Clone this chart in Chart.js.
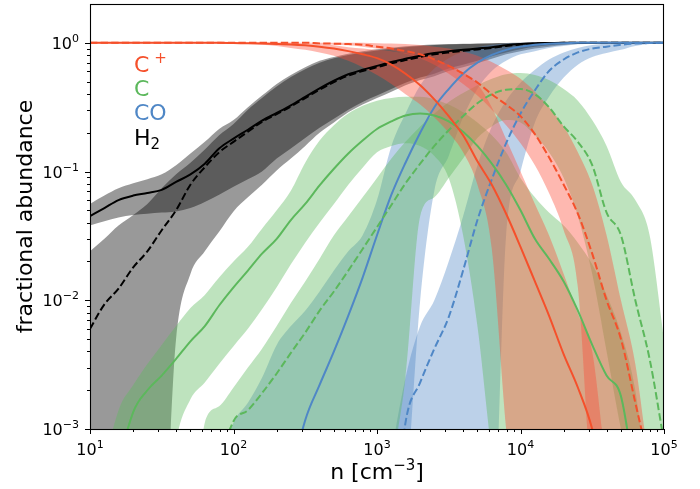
<!DOCTYPE html>
<html>
<head>
<meta charset="utf-8">
<script src="https://cdn.jsdelivr.net/npm/chart.js@4.4.1/dist/chart.umd.min.js"></script>
<style>
  html, body { margin: 0; padding: 0; background: #fff; }
  canvas { display: block; }
</style>
</head>
<body>
<canvas id="chart" width="700" height="489"></canvas>
<script>
  // density grid (cm^-3), 0.1 dex steps
  const density = [10, 12.6, 15.8, 20, 25.1, 31.6, 39.8, 50.1, 63.1, 79.4,
    100, 126, 158, 200, 251, 316, 398, 501, 631, 794,
    1000, 1260, 1580, 2000, 2510, 3160, 3980, 5010, 6310, 7940,
    10000, 12600, 15800, 20000, 25100, 31600, 39800, 50100, 63100, 79400, 100000];

  // ── H2 ───────────────────────────────────────────────────
  const h2Solid = [0.045, 0.052, 0.06, 0.065, 0.068, 0.072, 0.083, 0.095, 0.115, 0.151,
    0.18, 0.211, 0.248, 0.285, 0.327, 0.38, 0.442, 0.507, 0.569, 0.617,
    0.661, 0.708, 0.75, 0.794, 0.832, 0.861, 0.881, 0.902, 0.923, 0.955,
    0.977, 0.991, 0.995, 1, 1, 1, 1, 1, 1, 1, 1];
  const h2Dashed = [0.006, 0.0093, 0.0123, 0.018, 0.024, 0.035, 0.05, 0.079, 0.108, 0.141,
    0.17, 0.204, 0.243, 0.279, 0.32, 0.372, 0.432, 0.495, 0.556, 0.603,
    0.646, 0.692, 0.733, 0.776, 0.813, 0.841, 0.865, 0.887, 0.912, 0.944,
    0.968, 0.984, 0.993, 0.998, 1, 1, 1, 1, 1, 1, 1];
  const h2SolidHi = [0.056, 0.065, 0.074, 0.081, 0.087, 0.095, 0.112, 0.138, 0.17, 0.214,
    0.251, 0.316, 0.389, 0.479, 0.562, 0.646, 0.724, 0.776, 0.822, 0.861,
    0.891, 0.916, 0.938, 0.955, 0.968, 0.977, 0.984, 0.989, 0.993, 0.995,
    0.998, 1, 1, 1, 1, 1, 1, 1, 1, 1, 1];
  const h2SolidLo = [0.038, 0.041, 0.044, 0.046, 0.047, 0.048, 0.049, 0.052, 0.058, 0.066,
    0.076, 0.087, 0.1, 0.126, 0.151, 0.182, 0.219, 0.257, 0.302, 0.347,
    0.389, 0.437, 0.49, 0.537, 0.575, 0.631, 0.676, 0.724, 0.785, 0.841,
    0.891, 0.929, 0.955, 0.973, 0.984, 0.991, 0.995, 0.998, 1, 1, 1];
  const h2DashHi = [0.024, 0.03, 0.038, 0.046, 0.056, 0.074, 0.095, 0.117, 0.148, 0.191,
    0.234, 0.302, 0.372, 0.457, 0.543, 0.624, 0.70, 0.759, 0.804, 0.841,
    0.871, 0.902, 0.923, 0.944, 0.959, 0.97, 0.977, 0.984, 0.989, 0.993,
    0.995, 0.998, 1, 1, 1, 1, 1, 1, 1, 1, 1];
  const h2DashLo = [0.0001, 0.0001, 0.0001, 0.0001, 0.0001, 0.0001, 0.005, 0.016, 0.024, 0.034,
    0.049, 0.063, 0.079, 0.102, 0.126, 0.158, 0.2, 0.24, 0.288, 0.331,
    0.372, 0.417, 0.468, 0.513, 0.55, 0.603, 0.646, 0.692, 0.75, 0.813,
    0.861, 0.902, 0.933, 0.959, 0.977, 0.986, 0.993, 0.995, 0.998, 1, 1];

  // ── C+ ───────────────────────────────────────────────────
  const cplusSolid = [1, 1, 1, 1, 1, 1, 1, 1, 1, 1,
    0.995, 0.991, 0.986, 0.979, 0.97, 0.955, 0.933, 0.902, 0.861, 0.813,
    0.759, 0.676, 0.575, 0.468, 0.363, 0.269, 0.191, 0.12, 0.079, 0.047,
    0.026, 0.014, 0.0076, 0.0038, 0.0021, 0.001, 0.0003, 0.0001, 0.0001, 0.0001, 0.0001];
  const cplusDashed = [1, 1, 1, 1, 1, 1, 1, 1, 1, 1,
    1, 1, 1, 1, 1, 1, 0.989, 0.984, 0.977, 0.966,
    0.933, 0.902, 0.861, 0.813, 0.741, 0.661, 0.575, 0.49, 0.398, 0.331,
    0.269, 0.195, 0.129, 0.079, 0.047, 0.023, 0.01, 0.005, 0.0016, 0.0005, 0.0001];
  const cplusSolidHi = [1, 1, 1, 1, 1, 1, 1, 1, 1, 1,
    1, 1, 1, 1, 1, 0.989, 0.977, 0.955, 0.923, 0.902,
    0.881, 0.861, 0.832, 0.794, 0.741, 0.676, 0.589, 0.479, 0.316, 0.178,
    0.1, 0.056, 0.032, 0.016, 0.0079, 0.004, 0.0005, 0.0001, 0.0001, 0.0001, 0.0001];
  const cplusSolidLo = [0.993, 0.993, 0.993, 0.993, 0.993, 0.993, 0.993, 0.993, 0.993, 0.993,
    0.986, 0.977, 0.966, 0.944, 0.912, 0.881, 0.841, 0.794, 0.724, 0.646,
    0.562, 0.479, 0.398, 0.331, 0.263, 0.2, 0.141, 0.079, 0.025, 0.001,
    0.0001, 0.0001, 0.0001, 0.0001, 0.0001, 0.0001, 0.0001, 0.0001, 0.0001, 0.0001, 0.0001];
  const cplusDashHi = [1, 1, 1, 1, 1, 1, 1, 1, 1, 1,
    1, 1, 1, 1, 1, 1, 1, 1, 1, 1,
    0.993, 0.986, 0.977, 0.959, 0.933, 0.902, 0.851, 0.794, 0.708, 0.617,
    0.525, 0.417, 0.316, 0.224, 0.141, 0.079, 0.032, 0.01, 0.0032, 0.0005, 0.0001];
  const cplusDashLo = [0.993, 0.993, 0.993, 0.993, 0.993, 0.993, 0.993, 0.993, 0.993, 0.993,
    0.993, 0.993, 0.993, 0.993, 0.993, 0.993, 0.977, 0.966, 0.955, 0.933,
    0.902, 0.871, 0.822, 0.759, 0.676, 0.575, 0.479, 0.389, 0.302, 0.229,
    0.166, 0.112, 0.068, 0.035, 0.0126, 0.0003, 0.0001, 0.0001, 0.0001, 0.0001, 0.0001];

  // ── C ────────────────────────────────────────────────────
  const cSolid = [0.0001, 0.0001, 0.0005, 0.00135, 0.002, 0.0026, 0.0035, 0.0048, 0.0063, 0.0091,
    0.0126, 0.017, 0.023, 0.03, 0.042, 0.056, 0.078, 0.105, 0.138, 0.174,
    0.214, 0.245, 0.272, 0.282, 0.272, 0.245, 0.204, 0.158, 0.115, 0.079,
    0.05, 0.03, 0.021, 0.014, 0.0083, 0.0045, 0.0026, 0.0018, 0.0004, 0.0001, 0.0001];
  const cDashed = [0.0001, 0.0001, 0.0001, 0.0001, 0.0001, 0.0001, 0.0001, 0.0001, 0.0001, 0.0005,
    0.00115, 0.0014, 0.0019, 0.0027, 0.0039, 0.0056, 0.0083, 0.0117, 0.017, 0.025,
    0.037, 0.055, 0.081, 0.115, 0.158, 0.209, 0.269, 0.339, 0.398, 0.432,
    0.437, 0.398, 0.316, 0.224, 0.17, 0.112, 0.048, 0.032, 0.01, 0.0035, 0.0008];
  const cSolidHi = [0.0001, 0.0005, 0.0014, 0.0022, 0.0032, 0.0045, 0.0063, 0.0087, 0.011, 0.015,
    0.02, 0.026, 0.036, 0.05, 0.071, 0.117, 0.174, 0.229, 0.282, 0.324,
    0.355, 0.372, 0.38, 0.38, 0.363, 0.331, 0.288, 0.24, 0.191, 0.141,
    0.089, 0.063, 0.048, 0.038, 0.028, 0.019, 0.011, 0.0056, 0.002, 0.0003, 0.0001];
  const cSolidLo = [0.0001, 0.0001, 0.0001, 0.0001, 0.0001, 0.0001, 0.0008, 0.0017, 0.0023, 0.0032,
    0.0044, 0.006, 0.0085, 0.0126, 0.019, 0.028, 0.04, 0.056, 0.079, 0.107,
    0.141, 0.158, 0.166, 0.158, 0.132, 0.089, 0.032, 0.0063, 0.00063, 0.0001,
    0.0001, 0.0001, 0.0001, 0.0001, 0.0001, 0.0001, 0.0001, 0.0001, 0.0001, 0.0001, 0.0001];
  const cDashHi = [0.0001, 0.0001, 0.0001, 0.0001, 0.0001, 0.0001, 0.0001, 0.0001, 0.00112, 0.0015,
    0.0021, 0.003, 0.0042, 0.0063, 0.0095, 0.014, 0.021, 0.032, 0.045, 0.063,
    0.089, 0.126, 0.17, 0.224, 0.282, 0.347, 0.407, 0.468, 0.525, 0.569,
    0.582, 0.562, 0.513, 0.437, 0.355, 0.251, 0.158, 0.083, 0.06, 0.032, 0.005];
  const cDashLo = [0.0001, 0.0001, 0.0001, 0.0001, 0.0001, 0.0001, 0.0001, 0.0001, 0.0001, 0.0001,
    0.0001, 0.0001, 0.0001, 0.0001, 0.0001, 0.0001, 0.0001, 0.0001, 0.0001, 0.0001,
    0.0001, 0.0005, 0.0025, 0.045, 0.063, 0.089, 0.126, 0.182, 0.224, 0.251,
    0.24, 0.191, 0.141, 0.089, 0.045, 0.016, 0.004, 0.001, 0.0003, 0.0001, 0.0001];

  // ── CO ───────────────────────────────────────────────────
  const coSolid = [0.0001, 0.0001, 0.0001, 0.0001, 0.0001, 0.0001, 0.0001, 0.0001, 0.0001, 0.0001,
    0.0001, 0.0001, 0.0001, 0.0001, 0.0004, 0.00117, 0.0022, 0.004, 0.0076, 0.015,
    0.032, 0.066, 0.117, 0.2, 0.316, 0.437, 0.575, 0.70, 0.804, 0.881,
    0.933, 0.966, 0.984, 0.993, 0.998, 1, 1, 1, 1, 1, 1];
  const coDashed = [0.0001, 0.0001, 0.0001, 0.0001, 0.0001, 0.0001, 0.0001, 0.0001, 0.0001, 0.0001,
    0.0001, 0.0001, 0.0001, 0.0001, 0.0001, 0.0001, 0.0001, 0.0001, 0.0001, 0.0001,
    0.0001, 0.0001, 0.00112, 0.0023, 0.0042, 0.0074, 0.017, 0.042, 0.087, 0.166,
    0.282, 0.427, 0.603, 0.741, 0.841, 0.902, 0.933, 0.966, 0.986, 0.995, 1];
  const coSolidHi = [0.0001, 0.0001, 0.0001, 0.0001, 0.0001, 0.0001, 0.0001, 0.0001, 0.0001, 0.0005,
    0.00112, 0.0016, 0.0025, 0.0045, 0.0063, 0.0083, 0.0117, 0.017, 0.024, 0.032,
    0.06, 0.158, 0.282, 0.468, 0.631, 0.759, 0.851, 0.923, 0.966, 0.989,
    1, 1, 1, 1, 1, 1, 1, 1, 1, 1, 1];
  const coSolidLo = [0.0001, 0.0001, 0.0001, 0.0001, 0.0001, 0.0001, 0.0001, 0.0001, 0.0001, 0.0001,
    0.0001, 0.0001, 0.0001, 0.0001, 0.0001, 0.0001, 0.0001, 0.0001, 0.0001, 0.0001,
    0.0001, 0.0001, 0.0003, 0.01, 0.071, 0.132, 0.263, 0.437, 0.603, 0.724,
    0.813, 0.861, 0.912, 0.944, 0.973, 0.989, 1, 1, 1, 1, 1];
  const coDashHi = [0.0001, 0.0001, 0.0001, 0.0001, 0.0001, 0.0001, 0.0001, 0.0001, 0.0001, 0.0001,
    0.0001, 0.0001, 0.0001, 0.0001, 0.0001, 0.0001, 0.0001, 0.0001, 0.0001, 0.0001,
    0.0001, 0.00063, 0.0025, 0.0063, 0.01, 0.02, 0.045, 0.112, 0.224, 0.355,
    0.49, 0.617, 0.741, 0.841, 0.912, 0.959, 0.989, 1, 1, 1, 1];
  const coDashLo = [0.0001, 0.0001, 0.0001, 0.0001, 0.0001, 0.0001, 0.0001, 0.0001, 0.0001, 0.0001,
    0.0001, 0.0001, 0.0001, 0.0001, 0.0001, 0.0001, 0.0001, 0.0001, 0.0001, 0.0001,
    0.0001, 0.0001, 0.0001, 0.0001, 0.0001, 0.0001, 0.0001, 0.0001, 0.0001, 0.032,
    0.1, 0.24, 0.38, 0.537, 0.676, 0.776, 0.832, 0.881, 0.944, 0.977, 1];

  // axes / labels
  const xMajorTicks = [10, 100, 1000, 10000, 100000];
  const xTickExps = ['1', '2', '3', '4', '5'];
  const yMajorTicks = [0.001, 0.01, 0.1, 1];
  const yTickExps = ['\u22123', '\u22122', '\u22121', '0'];
  const legendBase = ['C', 'C', 'CO', 'H'];
  const legendSup = ['+', '', '', ''];
  const legendSub = ['', '', '', '2'];

  const RED = '#f5502b', GREEN = '#5cb85c', BLUE = '#4f87c6', BLACK = '#000000';
  const legendColors = [RED, GREEN, BLUE, BLACK];
  const FONT = "'DejaVu Sans', sans-serif";

  function line(data, color, dashed) {
    return {
      data: data, borderColor: color, borderWidth: 2,
      borderDash: dashed ? [7.4, 3.2] : [],
      pointRadius: 0, pointHitRadius: 0, fill: false,
      cubicInterpolationMode: 'monotone'
    };
  }

  function band(upper, lower, color) {
    return [
      { data: upper, borderWidth: 0, borderColor: 'transparent', pointRadius: 0, pointHitRadius: 0,
        backgroundColor: color, fill: '+1', cubicInterpolationMode: 'monotone' },
      { data: lower, borderWidth: 0, borderColor: 'transparent', pointRadius: 0, pointHitRadius: 0,
        fill: false, cubicInterpolationMode: 'monotone' }
    ];
  }

  // first dataset is drawn on top
  const datasets = [
    line(cplusSolid, RED, false),
    line(cplusDashed, RED, true),
    line(cSolid, GREEN, false),
    line(cDashed, GREEN, true),
    line(coSolid, BLUE, false),
    line(coDashed, BLUE, true),
    line(h2Solid, BLACK, false),
    line(h2Dashed, BLACK, true),
    ...band(cplusSolidHi, cplusSolidLo, 'rgba(252,78,58,0.4)'),
    ...band(cplusDashHi, cplusDashLo, 'rgba(252,78,58,0.4)'),
    ...band(cSolidHi, cSolidLo, 'rgba(92,184,92,0.4)'),
    ...band(cDashHi, cDashLo, 'rgba(92,184,92,0.4)'),
    ...band(coSolidHi, coSolidLo, 'rgba(79,135,198,0.38)'),
    ...band(coDashHi, coDashLo, 'rgba(79,135,198,0.38)'),
    ...band(h2SolidHi, h2SolidLo, 'rgba(0,0,0,0.4)'),
    ...band(h2DashHi, h2DashLo, 'rgba(0,0,0,0.4)')
  ];

  // draw a row of text runs [text, size, dy] ; align 'left' | 'center' | 'right'
  function drawRuns(ctx, x, yBase, runs, align) {
    let w = 0;
    runs.forEach(r => { ctx.font = r[1] + 'px ' + FONT; w += ctx.measureText(r[0]).width; });
    let cx = align === 'center' ? x - w / 2 : align === 'right' ? x - w : x;
    ctx.textAlign = 'left';
    ctx.textBaseline = 'alphabetic';
    runs.forEach(r => {
      ctx.font = r[1] + 'px ' + FONT;
      ctx.fillText(r[0], cx, yBase + r[2]);
      cx += ctx.measureText(r[0]).width;
    });
  }

  // ── frame, ticks, titles, legend ─────────────────────────
  const frame = {
    id: 'frame',
    afterDraw(chart) {
      const { ctx, chartArea: a, scales: { x, y } } = chart;
      ctx.save();
      ctx.strokeStyle = '#000';
      ctx.fillStyle = '#000';
      ctx.lineWidth = 1;

      const xt = [], yt = [];
      for (let d = 10; d < 100000; d *= 10) for (let m = 2; m < 10; m++) xt.push(m * d);
      for (let d = 0.001; d < 1; d *= 10) for (let m = 2; m < 10; m++) yt.push(m * d);

      ctx.beginPath();
      xMajorTicks.forEach(v => {
        const px = Math.round(x.getPixelForValue(v)) + 0.5;
        ctx.moveTo(px, a.bottom); ctx.lineTo(px, a.bottom + 5);
      });
      xt.forEach(v => {
        const px = Math.round(x.getPixelForValue(v)) + 0.5;
        ctx.moveTo(px, a.bottom); ctx.lineTo(px, a.bottom + 3);
      });
      yMajorTicks.forEach(v => {
        const py = Math.round(y.getPixelForValue(v)) + 0.5;
        ctx.moveTo(a.left, py); ctx.lineTo(a.left - 5, py);
      });
      yt.forEach(v => {
        const py = Math.round(y.getPixelForValue(v)) + 0.5;
        ctx.moveTo(a.left, py); ctx.lineTo(a.left - 3, py);
      });
      ctx.stroke();

      ctx.lineWidth = 1.1;
      ctx.strokeRect(a.left + 0.5, a.top + 0.5, a.right - a.left - 1, a.bottom - a.top);

      // tick labels
      xMajorTicks.forEach((v, i) => {
        drawRuns(ctx, x.getPixelForValue(v), a.bottom + 26,
          [['10', 16, 0], [xTickExps[i], 11, -7]], 'center');
      });
      yMajorTicks.forEach((v, i) => {
        drawRuns(ctx, a.left - 11, y.getPixelForValue(v) + 6,
          [['10', 16, 0], [yTickExps[i], 11, -7]], 'right');
      });

      // axis titles
      drawRuns(ctx, (a.left + a.right) / 2, 479,
        [['n [cm', 22, 0], ['\u22123', 15, -9], [']', 22, 0]], 'center');
      ctx.save();
      ctx.translate(32, (a.top + a.bottom) / 2);
      ctx.rotate(-Math.PI / 2);
      drawRuns(ctx, 0, 0, [['fractional abundance', 22, 0]], 'center');
      ctx.restore();

      // species labels
      legendBase.forEach((t, i) => {
        ctx.fillStyle = legendColors[i];
        const runs = [[t, 22, 0]];
        if (legendSup[i]) runs.push([' ' + legendSup[i], 15, -9]);
        if (legendSub[i]) runs.push([legendSub[i], 15, 4]);
        drawRuns(ctx, 134, 72 + i * 24.2, runs, 'left');
      });
      ctx.restore();
    }
  };

  new Chart(document.getElementById('chart'), {
    type: 'line',
    data: { labels: density, datasets: datasets },
    options: {
      responsive: false,
      animation: false,
      devicePixelRatio: 1,
      layout: { padding: { top: 4, right: 36, left: 0, bottom: 0 } },
      plugins: { legend: { display: false }, tooltip: { enabled: false } },
      scales: {
        x: {
          type: 'logarithmic', min: 10, max: 100000,
          grid: { display: false }, border: { display: false },
          ticks: { display: false },
          afterFit: s => { s.height = 60; s.paddingLeft = 0; s.paddingRight = 0; }
        },
        y: {
          type: 'logarithmic', min: 0.001, max: 2,
          grid: { display: false }, border: { display: false },
          ticks: { display: false },
          afterFit: s => { s.width = 90; s.paddingTop = 0; s.paddingBottom = 0; }
        }
      }
    },
    plugins: [frame]
  });
</script>
</body>
</html>
